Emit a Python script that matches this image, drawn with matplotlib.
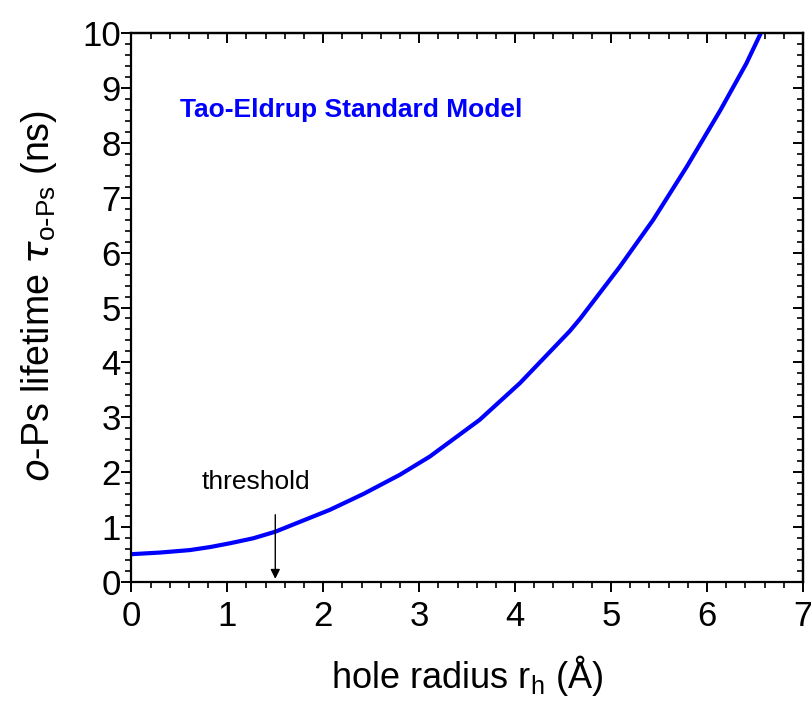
import matplotlib
matplotlib.use("Agg")
import matplotlib.pyplot as plt
from matplotlib.ticker import MultipleLocator

# data
radius = [0.0, 0.3, 0.61, 0.82, 1.03, 1.27, 1.5, 2.07, 2.42, 2.8, 3.11, 3.63, 4.05,
          4.57, 4.68, 5.09, 5.44, 5.79, 6.14, 6.41, 6.56]
lifetime = [0.50, 0.53, 0.575, 0.63, 0.70, 0.79, 0.91, 1.31, 1.60, 1.95, 2.28, 2.95, 3.62,
            4.57, 4.80, 5.74, 6.60, 7.57, 8.60, 9.45, 10.0]
threshold_x = 1.5
threshold_top = 1.22
threshold_bottom = 0.05
xticks = [0, 1, 2, 3, 4, 5, 6, 7]
yticks = [0, 1, 2, 3, 4, 5, 6, 7, 8, 9, 10]

plt.rcParams['font.family'] = ['Liberation Sans', 'DejaVu Sans']

fig = plt.figure(figsize=(8.11, 7.11), dpi=100)
ax = fig.add_axes([0.162, 0.182, 0.828, 0.771])

ax.plot(radius, lifetime, color='#0000ff', lw=3, solid_joinstyle='round')
ax.set_xlim(0, 7)
ax.set_ylim(0, 10)
ax.set_xticks(xticks)
ax.set_yticks(yticks)
ax.xaxis.set_minor_locator(MultipleLocator(0.2))
ax.yaxis.set_minor_locator(MultipleLocator(0.2))

for s in ax.spines.values():
    s.set_linewidth(1.6)

ax.tick_params(axis='both', which='major', length=7.5, width=1.4, labelsize=25, direction='out')
ax.tick_params(axis='both', which='minor', length=4, width=1.2, direction='out')
ax.tick_params(axis='x', which='both', pad=6)
ax.tick_params(axis='y', which='both', pad=0)

# mirror ticks on top and right (pointing inward)
axt = ax.secondary_xaxis('top')
axt.set_xticks(xticks)
axt.xaxis.set_minor_locator(MultipleLocator(0.2))
axt.tick_params(which='major', direction='in', length=7.5, width=1.4, labeltop=False)
axt.tick_params(which='minor', direction='in', length=4, width=1.2)
axt.spines['top'].set_linewidth(1.6)
axr = ax.secondary_yaxis('right')
axr.set_yticks(yticks)
axr.yaxis.set_minor_locator(MultipleLocator(0.2))
axr.tick_params(which='major', direction='in', length=7.5, width=1.4, labelright=False)
axr.tick_params(which='minor', direction='in', length=4, width=1.2)
axr.spines['right'].set_linewidth(1.6)

ax.set_xlabel(r'hole radius r$_\mathregular{h}$ (Å)', fontsize=26, labelpad=14)
ax.set_ylabel(r'$\mathit{o}$-Ps lifetime $\tau_{\mathregular{o\text{-}Ps}}$ (ns)', fontsize=27)
ax.yaxis.set_label_coords(-0.108, 0.52)

ax.text(0.072, 0.860, 'Tao-Eldrup Standard Model', transform=ax.transAxes, color='#0000ff',
        fontsize=19, fontweight='bold', ha='left', va='center')
ax.text(1.30, 1.82, 'threshold', fontsize=19, ha='center', va='center')
ax.annotate('', xy=(threshold_x, threshold_bottom), xytext=(threshold_x, threshold_top),
            arrowprops=dict(arrowstyle='-|>', color='black', lw=1.0, mutation_scale=14, shrinkA=0, shrinkB=0))

fig.savefig('out.png', dpi=100)
